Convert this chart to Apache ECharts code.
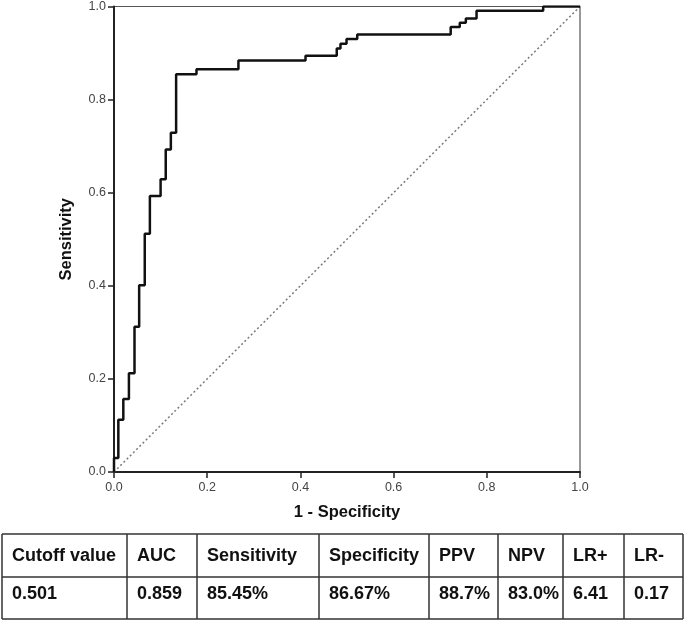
<!DOCTYPE html>
<html>
<head>
<meta charset="utf-8">
<script src="https://cdn.jsdelivr.net/npm/echarts@6/dist/echarts.min.js"></script>
<style>
html,body{margin:0;padding:0;background:#fff;}
#chart{width:685px;height:621px;}
</style>
</head>
<body>
<div id="chart"></div>
<script>
// ROC curve: x positions of each vertical step and the sensitivity level reached there
const rocX = [0, 0.0093, 0.020, 0.032, 0.044, 0.054, 0.066, 0.077, 0.100, 0.111, 0.122, 0.1333, 0.177, 0.267, 0.411, 0.478, 0.486, 0.499, 0.522, 0.7225, 0.742, 0.755, 0.778, 0.921];
const rocY = [0.03, 0.112, 0.157, 0.212, 0.312, 0.401, 0.512, 0.593, 0.629, 0.693, 0.729, 0.8545, 0.865, 0.884, 0.894, 0.910, 0.920, 0.930, 0.940, 0.956, 0.965, 0.974, 0.991, 1.0];
// reference line
const refX = [0, 1];
const refY = [0, 1];
// table
const tableHeaders = ['Cutoff value', 'AUC', 'Sensitivity', 'Specificity', 'PPV', 'NPV', 'LR+', 'LR-'];
const tableValues = ['0.501', '0.859', '85.45%', '86.67%', '88.7%', '83.0%', '6.41', '0.17'];

const rocData = [[0, 0]];
for (let i = 0; i < rocX.length; i++) {
  rocData.push([rocX[i], rocY[i]]);
  rocData.push([i + 1 < rocX.length ? rocX[i + 1] : 1, rocY[i]]);
}
const refData = refX.map((x, i) => [x, refY[i]]);

// table layout
const colEdges = [2, 127, 197, 319, 429, 498, 563, 624, 683];
const rowEdges = [534, 577, 619];
const lineStyle = {stroke: '#333', lineWidth: 1.5};
const graphics = [];
rowEdges.forEach(y => graphics.push({type: 'line', shape: {x1: colEdges[0], y1: y, x2: colEdges[colEdges.length - 1], y2: y}, style: lineStyle}));
colEdges.forEach(x => graphics.push({type: 'line', shape: {x1: x, y1: rowEdges[0], x2: x, y2: rowEdges[rowEdges.length - 1]}, style: lineStyle}));
const font = 'bold 18px "Liberation Sans", Arial, sans-serif';
tableHeaders.forEach((t, i) => graphics.push({type: 'text', x: colEdges[i] + 10, y: (rowEdges[0] + rowEdges[1]) / 2 + 1, style: {text: t, font: font, fill: '#111', verticalAlign: 'middle', textVerticalAlign: 'middle'}}));
tableValues.forEach((t, i) => graphics.push({type: 'text', x: colEdges[i] + 10, y: (rowEdges[1] + rowEdges[2]) / 2 - 4, style: {text: t, font: font, fill: '#111', verticalAlign: 'middle', textVerticalAlign: 'middle'}}));

const axisCommon = {
  type: 'value', min: 0, max: 1, interval: 0.2,
  axisLine: {show: true, lineStyle: {color: '#222', width: 2}},
  axisTick: {show: true, length: 6, lineStyle: {color: '#222', width: 1.5}},
  axisLabel: {color: '#444', fontSize: 12.5, fontFamily: '"Liberation Sans", Arial, sans-serif', margin: 8, formatter: v => v.toFixed(1)},
  splitLine: {show: false},
  nameLocation: 'middle',
  nameTextStyle: {fontSize: 16.5, fontWeight: 'bold', color: '#111', fontFamily: '"Liberation Sans", Arial, sans-serif'}
};

const chart = echarts.init(document.getElementById('chart'), null, {renderer: 'canvas'});
chart.setOption({
  animation: false,
  backgroundColor: '#fff',
  grid: {left: 114, top: 6, width: 466, height: 466, show: true, borderColor: '#555', borderWidth: 1.2, backgroundColor: 'transparent'},
  xAxis: Object.assign({}, axisCommon, {name: '1 - Specificity', nameGap: 32, axisLabel: Object.assign({}, axisCommon.axisLabel, {margin: 9})}),
  yAxis: Object.assign({}, axisCommon, {name: 'Sensitivity', nameGap: 39}),
  series: [
    {type: 'line', data: refData, symbol: 'none', lineStyle: {color: '#7a7a7a', width: 1.5, type: [2, 2.5]}, z: 2},
    {type: 'line', data: rocData, symbol: 'none', lineStyle: {color: '#111', width: 2.5}, z: 3}
  ],
  graphic: graphics
});
</script>
</body>
</html>
